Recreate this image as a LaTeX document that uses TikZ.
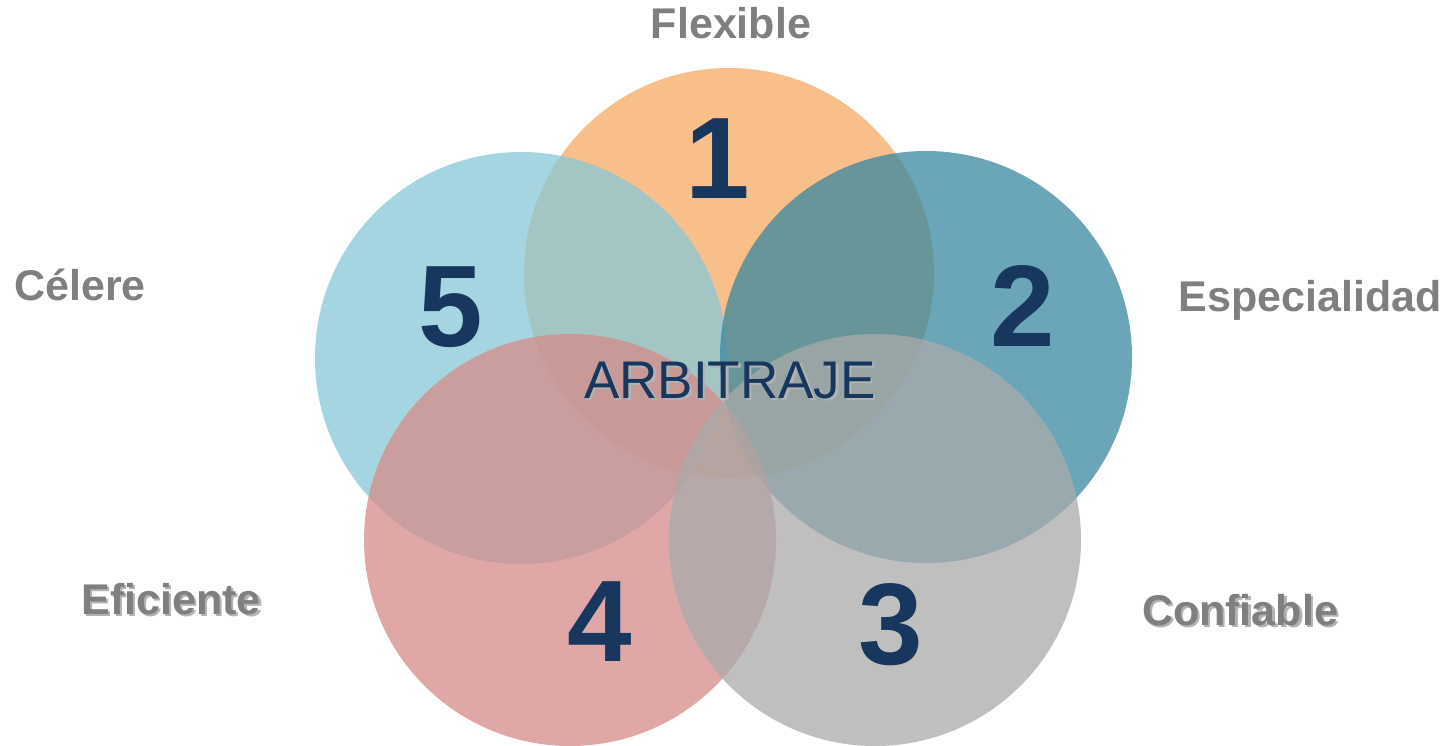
\documentclass[tikz,border=0pt]{standalone}
\usepackage{fontspec}
\setmainfont{Liberation Sans}
\definecolor{petalA}{RGB}{245,170,100}
\definecolor{petalB}{RGB}{56,136,160}
\definecolor{petalC}{RGB}{170,170,170}
\definecolor{petalD}{RGB}{214,138,138}
\definecolor{petalE}{RGB}{136,199,216}
\definecolor{numblue}{RGB}{23,55,94}
\definecolor{labgray}{RGB}{127,127,127}
\newcommand{\shadowed}[1]{\rlap{\hspace{2.5pt}\raisebox{-2.5pt}{\color{black!30}#1}}#1}

\begin{document}
\begin{tikzpicture}[x=1pt,y=-1pt]
        \tikzstyle{every node}+=[inner sep=0pt]
        \tikzstyle{petal}=[fill opacity=0.75]
        \tikzstyle{num}=[text=numblue, font=\bfseries\fontsize{116}{116}\selectfont]
        \tikzstyle{lab}=[text=labgray, anchor=base, font=\bfseries\fontsize{43}{43}\selectfont]
        \useasboundingbox (0,0) rectangle (1447,746);
        \fill [petal, petalA] (729,273) circle (205pt);
        \fill [petal, petalE] (521,358) circle (206pt);
        \fill [petal, petalB] (926,357) circle (206pt);
        \fill [petal, petalD] (570,540) circle (206pt);
        \fill [petal, petalC] (875,540) circle (206pt);
        \node [num] (n1) at (718,159) {1};
        \node [num] (n2) at (1023,306) {2};
        \node [num] (n3) at (891,625) {3};
        \node [num] (n4) at (600,622) {4};
        \node [num] (n5) at (451,307) {5};
        \node [anchor=base, text=numblue, font=\fontsize{53}{53}\selectfont] (center) at (730,398) {\shadowed{ARBITRAJE}};
        \node [lab] (flex) at (731,39) {Flexible};
        \node [lab] (esp) at (1310,311) {Especialidad};
        \node [lab] (conf) at (1240,625) {\shadowed{Confiable}};
        \node [lab] (efi) at (171,614) {\shadowed{Eficiente}};
        \node [lab] (cel) at (80,300) {Célere};
\end{tikzpicture}
\end{document}
